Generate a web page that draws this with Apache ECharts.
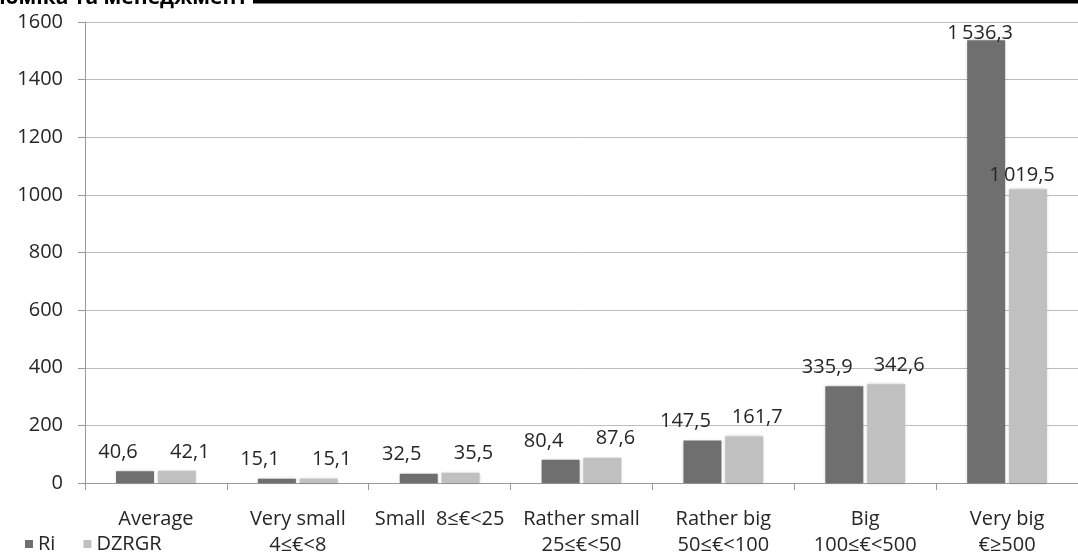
<!DOCTYPE html>
<html>
<head>
<meta charset="utf-8">
<script src="https://cdn.jsdelivr.net/npm/echarts@6/dist/echarts.min.js"></script>
<style>
  html, body { margin: 0; padding: 0; background: #fff; }
  #chart { width: 1078px; height: 558px; }
</style>
</head>
<body>
<div id="chart"></div>
<script>
// Enterprise size groups (by economic size, thousand €)
const categories = [
  'Average',
  'Very small\n4≤€<8',
  'Small  8≤€<25',
  'Rather small\n25≤€<50',
  'Rather big\n50≤€<100',
  'Big\n100≤€<500',
  'Very big\n€≥500'
];
const seriesNames = ['Ri', 'DZRGR'];
const riValues = [40.6, 15.1, 32.5, 80.4, 147.5, 335.9, 1536.3];
const dzrgrValues = [42.1, 15.1, 35.5, 87.6, 161.7, 342.6, 1019.5];
const yAxisMin = 0;
const yAxisMax = 1600;
const yAxisStep = 200;

const FONT = '"Open Sans", "Liberation Sans", sans-serif';
const TEXT = '#262626';
const FS = 20;

// Number formatting with a space as thousands separator and a decimal comma
function fmt(v) {
  const parts = v.toFixed(1).split('.');
  const intPart = parts[0].replace(/\B(?=(\d{3})+(?!\d))/g, '\u2009');
  return intPart + ',' + parts[1];
}

// Label nudges for the tallest group, where labels sit closer to the bars
function buildData(values, lastOffset) {
  return values.map((v, i) => {
    if (i === values.length - 1) {
      return { value: v, label: { offset: lastOffset } };
    }
    return v;
  });
}

const chart = echarts.init(document.getElementById('chart'), null, { renderer: 'canvas' });

const barStyle = (color) => ({
  color: color,
  shadowColor: 'rgba(0,0,0,0.22)',
  shadowBlur: 3,
  shadowOffsetX: 0,
  shadowOffsetY: 0
});

const labelStyle = (offset) => ({
  show: true,
  position: 'top',
  distance: 9,
  offset: offset,
  color: TEXT,
  fontFamily: FONT,
  fontSize: FS,
  formatter: (p) => fmt(p.value)
});

chart.setOption({
  animation: false,
  backgroundColor: '#ffffff',
  textStyle: { fontFamily: FONT },
  grid: {
    left: 85,
    top: 22,
    width: 1013,
    height: 465,
    containLabel: false
  },
  legend: {
    data: seriesNames,
    left: 20,
    top: 529,
    itemWidth: 8,
    itemHeight: 8,
    itemGap: 28,
    icon: 'rect',
    textStyle: { color: TEXT, fontFamily: FONT, fontSize: FS }
  },
  xAxis: {
    type: 'category',
    data: categories,
    axisLine: { show: true, lineStyle: { color: '#9a9a9a', width: 1 } },
    axisTick: { show: true, length: 7, alignWithLabel: false, lineStyle: { color: '#9a9a9a' } },
    axisLabel: {
      interval: 0,
      margin: 23,
      color: TEXT,
      fontFamily: FONT,
      fontSize: FS,
      lineHeight: 26
    },
    splitLine: { show: false }
  },
  yAxis: {
    type: 'value',
    min: yAxisMin,
    max: yAxisMax,
    interval: yAxisStep,
    axisLine: { show: true, lineStyle: { color: '#9a9a9a', width: 1 } },
    axisTick: { show: true, length: 7, lineStyle: { color: '#9a9a9a' } },
    axisLabel: {
      margin: 22,
      color: TEXT,
      fontFamily: FONT,
      fontSize: FS,
      formatter: (v) => String(v)
    },
    splitLine: { show: true, lineStyle: { color: '#bcbcbc', width: 1 } }
  },
  series: [
    {
      name: seriesNames[0],
      type: 'bar',
      barWidth: 38,
      barGap: '10%',
      data: buildData(riValues, [-6, 12]),
      itemStyle: barStyle('#6f6f6f'),
      label: labelStyle([-17, 0])
    },
    {
      name: seriesNames[1],
      type: 'bar',
      barWidth: 38,
      barGap: '10%',
      data: buildData(dzrgrValues, [-6, 5]),
      itemStyle: barStyle('#c0c0c0'),
      label: labelStyle([13, 0])
    }
  ],
  graphic: [
    {
      type: 'text',
      right: 1078 - 248,
      top: -12,
      style: {
        text: 'Економіка та менеджмент',
        font: 'bold 21px "Open Sans", "Liberation Sans", sans-serif',
        fill: '#000'
      }
    },
    {
      type: 'rect',
      shape: { x: 253, y: 0, width: 825, height: 3.5 },
      style: { fill: '#000' }
    }
  ]
});
</script>
</body>
</html>
